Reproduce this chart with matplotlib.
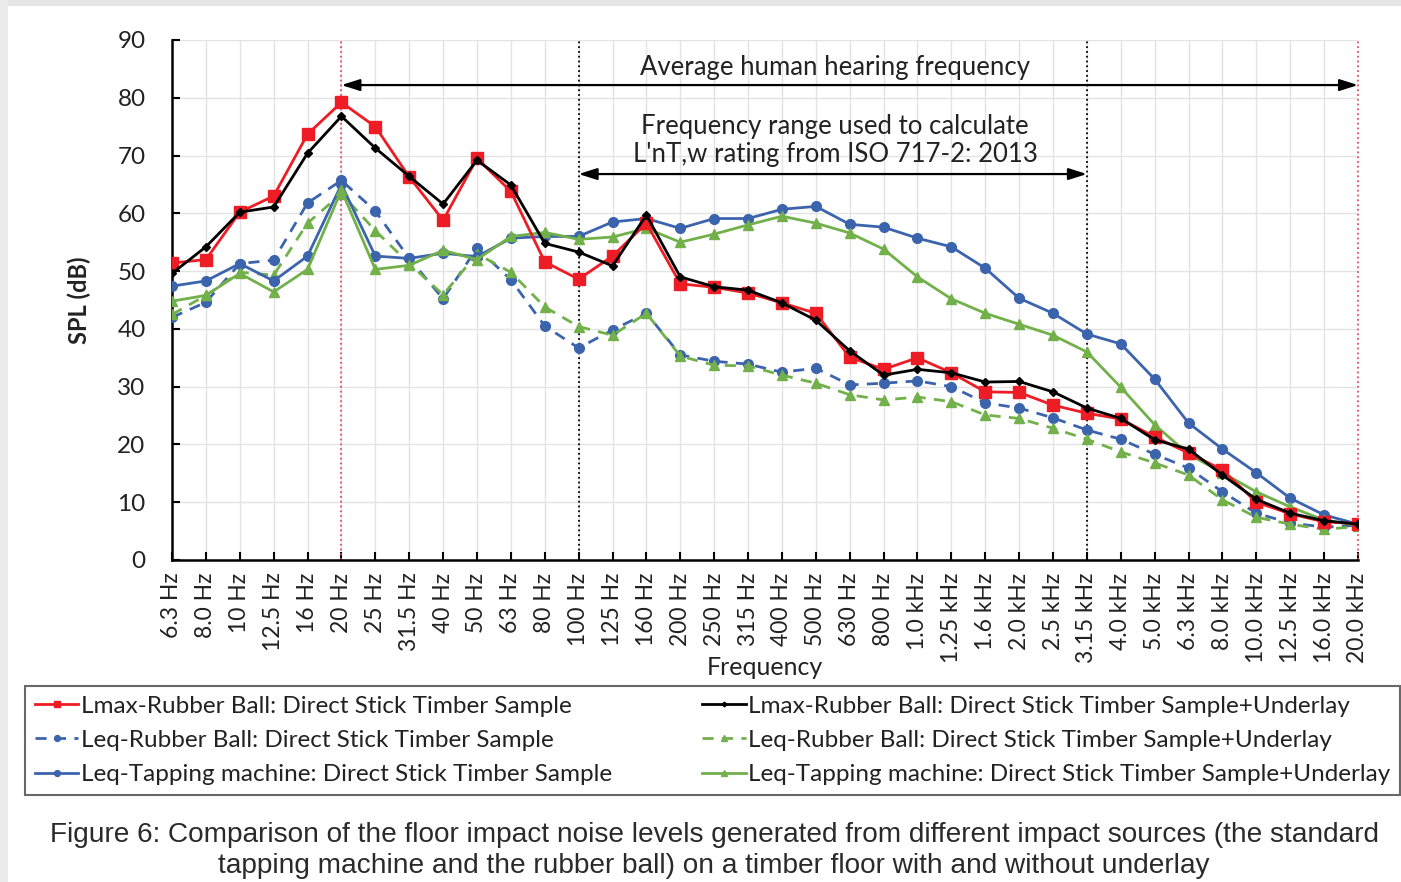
import matplotlib
matplotlib.use("Agg")
import matplotlib.pyplot as plt
from matplotlib.patches import Rectangle

# -----------------------------------
# DATA
# -----------------------------------

freq_labels = [
    "6.3 Hz", "8.0 Hz", "10 Hz", "12.5 Hz", "16 Hz", "20 Hz", "25 Hz",
    "31.5 Hz", "40 Hz", "50 Hz", "63 Hz", "80 Hz", "100 Hz", "125 Hz",
    "160 Hz", "200 Hz", "250 Hz", "315 Hz", "400 Hz", "500 Hz", "630 Hz",
    "800 Hz", "1.0 kHz", "1.25 kHz", "1.6 kHz", "2.0 kHz", "2.5 kHz",
    "3.15 kHz", "4.0 kHz", "5.0 kHz", "6.3 kHz", "8.0 kHz", "10.0 kHz",
    "12.5 kHz", "16.0 kHz", "20.0 kHz",
]

lmax_rb = [51.4, 52.0, 60.2, 63.0, 73.7, 79.2, 75.0, 66.3, 58.8, 69.5,
           63.8, 51.6, 48.6, 52.6, 58.3, 47.8, 47.2, 46.2, 44.5, 42.7,
           35.1, 33.0, 35.0, 32.4, 29.1, 29.0, 26.8, 25.4, 24.4, 21.3,
           18.5, 15.6, 10.0, 8.0, 6.6, 6.3]

lmax_rb_u = [49.6, 54.2, 60.2, 61.1, 70.4, 76.8, 71.3, 66.4, 61.6, 69.2,
             64.9, 54.8, 53.3, 50.9, 59.7, 49.0, 47.3, 46.7, 44.5, 41.5,
             36.2, 32.0, 33.0, 32.4, 30.8, 30.9, 29.1, 26.3, 24.5, 20.8,
             19.2, 14.7, 10.5, 8.1, 6.8, 6.2]

leq_rb = [42.0, 44.6, 51.3, 51.9, 61.8, 65.7, 60.4, 52.2, 45.2, 54.0,
          48.5, 40.5, 36.7, 39.8, 42.7, 35.5, 34.4, 33.9, 32.5, 33.2,
          30.3, 30.6, 31.0, 30.0, 27.2, 26.3, 24.6, 22.5, 20.9, 18.3,
          15.9, 11.8, 8.1, 6.4, 5.7, 6.0]

leq_rb_u = [42.5, 45.8, 49.8, 49.3, 58.3, 63.4, 57.0, 51.3, 45.9, 53.0,
            49.8, 43.8, 40.4, 38.9, 42.7, 35.3, 33.7, 33.6, 32.0, 30.6,
            28.6, 27.7, 28.2, 27.4, 25.1, 24.5, 22.8, 20.9, 18.7, 16.8,
            14.7, 10.4, 7.4, 6.2, 5.3, 5.8]

leq_tm = [47.4, 48.3, 51.3, 48.3, 52.6, 65.0, 52.6, 52.2, 53.1, 52.5,
          55.7, 56.0, 56.0, 58.5, 59.1, 57.4, 59.1, 59.1, 60.7, 61.2,
          58.1, 57.6, 55.7, 54.2, 50.5, 45.3, 42.7, 39.1, 37.4, 31.3,
          23.7, 19.2, 15.1, 10.7, 7.8, 6.2]

leq_tm_u = [44.8, 45.8, 49.6, 46.4, 50.3, 64.0, 50.3, 51.0, 53.6, 52.0,
            56.0, 56.7, 55.5, 55.9, 57.4, 55.0, 56.4, 58.0, 59.5, 58.3,
            56.6, 53.8, 49.0, 45.2, 42.7, 40.8, 38.9, 36.0, 29.9, 23.4,
            18.3, 15.1, 11.8, 9.2, 6.9, 6.0]

# -----------------------------------
# STYLE
# -----------------------------------

plt.rcParams["font.family"] = ["Lato", "DejaVu Sans"]

RED = "#ee1c24"
BLUE = "#3b64ad"
GREEN = "#72b04a"
TXT = "#222222"
LW = 2.0

x = list(range(len(freq_labels)))

fig = plt.figure(figsize=(14.01, 8.82), dpi=100)
fig.patch.set_facecolor("white")

# light grey screenshot border
fig.patches.append(Rectangle((0, 1 - 6 / 882), 1, 6 / 882, transform=fig.transFigure,
                             facecolor="#e6e6e6", edgecolor="none", zorder=0))
fig.patches.append(Rectangle((0, 0), 8 / 1401, 1, transform=fig.transFigure,
                             facecolor="#ececec", edgecolor="none", zorder=0))

ax = fig.add_axes([172 / 1401, 1 - 560 / 882, 1186 / 1401, 520 / 882])

# -----------------------------------
# SERIES
# -----------------------------------

h1, = ax.plot(x, lmax_rb, color=RED, lw=LW, marker="s", ms=8,
              label="Lmax-Rubber Ball: Direct Stick Timber Sample", zorder=4)
h4, = ax.plot(x, lmax_rb_u, color="black", lw=LW, marker="D", ms=4,
              label="Lmax-Rubber Ball: Direct Stick Timber Sample+Underlay", zorder=5)
h2, = ax.plot(x, leq_rb, color=BLUE, lw=LW, marker="o", ms=7, dashes=(4, 3),
              label="Leq-Rubber Ball: Direct Stick Timber Sample", zorder=3)
h5, = ax.plot(x, leq_rb_u, color=GREEN, lw=LW, marker="^", ms=7, dashes=(4, 3),
              label="Leq-Rubber Ball: Direct Stick Timber Sample+Underlay", zorder=3)
h3, = ax.plot(x, leq_tm, color=BLUE, lw=LW, marker="o", ms=7,
              label="Leq-Tapping machine: Direct Stick Timber Sample", zorder=3)
h6, = ax.plot(x, leq_tm_u, color=GREEN, lw=LW, marker="^", ms=7,
              label="Leq-Tapping machine: Direct Stick Timber Sample+Underlay", zorder=3)

# -----------------------------------
# AXES
# -----------------------------------

ax.set_xlim(0, len(freq_labels) - 1)
ax.set_ylim(0, 90)
ax.set_yticks(range(0, 91, 10))
ax.set_xticks(x)
ax.set_xticklabels(freq_labels, rotation=90, fontsize=16.5, color=TXT)
ax.tick_params(axis="y", labelsize=17.5, labelcolor=TXT, direction="in",
               length=6, width=1.5, pad=19)
ax.tick_params(axis="x", direction="in", length=6, width=1.5, pad=9)

ax.grid(True, color="#e3e3e3", lw=1)
ax.set_axisbelow(True)
for side in ["top", "right"]:
    ax.spines[side].set_visible(False)
for side in ["left", "bottom"]:
    ax.spines[side].set_linewidth(1.8)

ax.set_ylabel("SPL (dB)", fontsize=17, fontweight="bold", labelpad=19, color=TXT)
ax.set_xlabel("Frequency", fontsize=18, labelpad=-5, color=TXT)

# -----------------------------------
# ANNOTATIONS
# -----------------------------------

for xv in [5, 35]:
    ax.axvline(xv, color="#e0506a", lw=1.3, ls=":", zorder=2, clip_on=False)
for xv in [12, 27]:
    ax.axvline(xv, color="black", lw=1.3, ls=":", zorder=2)

ax.annotate("", xy=(5, 82.2), xytext=(35, 82.2),
            arrowprops=dict(arrowstyle="<|-|>,head_length=1.1,head_width=0.35",
                            color="black", lw=1.6, shrinkA=0, shrinkB=0))
ax.annotate("", xy=(12, 66.8), xytext=(27, 66.8),
            arrowprops=dict(arrowstyle="<|-|>,head_length=1.1,head_width=0.35",
                            color="black", lw=1.6, shrinkA=0, shrinkB=0))

ax.text(19.57, 85.3, "Average human hearing frequency", ha="center", va="center",
        fontsize=18.5, color=TXT)
ax.text(19.57, 72.6, "Frequency range used to calculate\nL'nT,w rating from ISO 717-2: 2013",
        ha="center", va="center", fontsize=18.5, linespacing=1.12, color=TXT)

# -----------------------------------
# LEGEND
# -----------------------------------

leg = fig.legend(handles=[h1, h2, h3, h4, h5, h6], ncol=2, mode="expand",
                 loc="lower left",
                 bbox_to_anchor=(25 / 1401, 1 - 795 / 882, 1375 / 1401, 112 / 882),
                 fontsize=17.5, frameon=True, fancybox=False, handlelength=1.8,
                 handletextpad=0.1, labelspacing=0.55, borderaxespad=0,
                 borderpad=0.4, markerscale=0.6)
leg.get_frame().set_edgecolor("#444444")
leg.get_frame().set_linewidth(1.5)
for t in leg.get_texts():
    t.set_color(TXT)

# -----------------------------------
# CAPTION
# -----------------------------------

fig.text(714 / 1401, 1 - 835 / 882,
         "Figure 6: Comparison of the floor impact noise levels generated from different impact sources (the standard",
         ha="center", va="center", fontsize=20.2, color="#2a2a2a", family="Liberation Sans")
fig.text(714 / 1401, 1 - 866 / 882,
         "tapping machine and the rubber ball) on a timber floor with and without underlay",
         ha="center", va="center", fontsize=20.2, color="#2a2a2a", family="Liberation Sans")

fig.savefig("out.png", dpi=100)
plt.close(fig)
